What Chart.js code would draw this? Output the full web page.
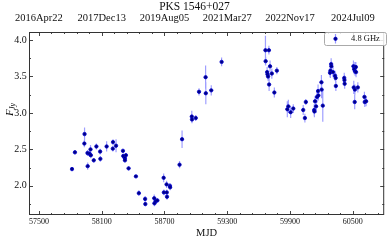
<!DOCTYPE html>
<html>
<head>
<meta charset="utf-8">
<script src="https://cdn.jsdelivr.net/npm/chart.js@4.4.1/dist/chart.umd.min.js"></script>
<style>
html,body{margin:0;padding:0;background:#fff;}
#c{display:block;}
</style>
</head>
<body>
<canvas id="c" width="389" height="240"></canvas>
<script>
// light curve, 4.8 GHz
const mjd = [57816,57844,57936,57934,57964,57966,57983,57993,57996,58024,58049,58085,58087,58147,58208,58206,58237,
  58303,58306,58321,58331,58322,58357,58427,58455,58515,58517,58602,58604,58616,58632,58692,58694,58720,58722,58724,
  58752,58754,58844,58868,58961,58963,58999,59030,59093,59095,59147,59246,
  59665,59698,59667,59681,59685,59690,59709,59726,59700,59750,59774,59874,59884,59906,59931,60026,60042,60051,
  60131,60133,60139,60149,60158,60168,60171,60200,60202,60213,60286,60293,60295,60282,60311,60330,60336,60338,
  60418,60420,60422,60506,60520,60529,60513,60522,60531,60509,60520,60548,60518,60611,60614,60627];
const flux = [2.23,2.46,2.71,2.58,2.45,2.27,2.44,2.50,2.42,2.35,2.54,2.47,2.37,2.54,2.60,2.51,2.55,
  2.48,2.41,2.38,2.42,2.35,2.24,2.13,1.90,1.82,1.75,1.83,1.76,1.79,1.80,2.11,1.91,2.02,1.91,1.85,
  2.00,1.98,2.29,2.64,2.95,2.91,2.93,3.29,3.49,3.27,3.31,3.70,
  3.86,3.86,3.71,3.56,3.53,3.50,3.64,3.54,3.39,3.28,3.58,3.05,3.09,3.01,3.06,3.04,2.93,3.15,
  3.04,3.02,3.16,3.09,3.22,3.30,3.24,3.42,3.32,3.10,3.58,3.67,3.64,3.55,3.56,3.51,3.48,3.37,
  3.48,3.45,3.40,3.64,3.63,3.63,3.60,3.57,3.56,3.35,3.32,3.35,3.15,3.22,3.15,3.16];
const fluxErr = [0.03,0.03,0.09,0.05,0.04,0.05,0.04,0.06,0.04,0.03,0.04,0.04,0.04,0.07,0.04,0.04,0.09,
  0.03,0.03,0.04,0.03,0.03,0.03,0.02,0.04,0.04,0.03,0.05,0.04,0.04,0.03,0.06,0.04,0.05,0.04,0.04,
  0.04,0.04,0.05,0.12,0.08,0.05,0.04,0.05,0.16,0.15,0.07,0.06,
  0.20,0.06,0.06,0.07,0.06,0.06,0.08,0.07,0.09,0.07,0.05,0.11,0.09,0.08,0.06,0.07,0.06,0.04,
  0.08,0.08,0.07,0.09,0.08,0.09,0.07,0.10,0.12,0.22,0.10,0.08,0.07,0.06,0.07,0.07,0.07,0.07,
  0.07,0.07,0.07,0.08,0.07,0.07,0.07,0.06,0.07,0.09,0.07,0.07,0.10,0.07,0.07,0.07];

const xTicks = [57500,58100,58700,59300,59900,60500];
const yTicks = [2.0,2.5,3.0,3.5,4.0];
const xRange = [57405,60800];
const yRange = [1.60,4.11];
const seriesLabel = "4.8 GHz";
const titleText = "PKS 1546+027";

const SERIF = "'Liberation Serif','Times New Roman',serif";
const months = ["Jan","Feb","Mar","Apr","May","Jun","Jul","Aug","Sep","Oct","Nov","Dec"];

function mjdToDate(m){
  const d = new Date((m-40587)*86400000);
  return d.getUTCFullYear()+months[d.getUTCMonth()]+String(d.getUTCDate()).padStart(2,"0");
}

const points = mjd.map((m,i)=>({x:m,y:flux[i]}));
const errLines = [];
mjd.forEach((m,i)=>{
  errLines.push({x:m,y:flux[i]-fluxErr[i]});
  errLines.push({x:m,y:flux[i]+fluxErr[i]});
  errLines.push({x:m,y:null});
});

// frame, inward ticks, titles and legend box
const decor = {
  id:"decor",
  afterDatasetsDraw(chart){
    const {ctx, chartArea:a, scales} = chart;
    const xs = scales.x, ys = scales.y;
    ctx.save();
    ctx.strokeStyle="#444"; ctx.lineWidth=1;
    ctx.beginPath();
    const xStep = (xTicks[1]-xTicks[0])/5;
    for(let v=xTicks[0]-xStep*5; v<=xRange[1]; v+=xStep){
      if(v<xRange[0]) continue;
      const p = Math.round(xs.getPixelForValue(v))+0.5;
      const major = xTicks.includes(Math.round(v));
      const len = major?4:2;
      ctx.moveTo(p,a.bottom); ctx.lineTo(p,a.bottom-len);
      ctx.moveTo(p,a.top); ctx.lineTo(p,a.top+len);
    }
    for(let v=1.75; v<=yRange[1]; v+=0.25){
      const p = Math.round(ys.getPixelForValue(v))+0.5;
      const major = Math.abs(v*2-Math.round(v*2))<1e-6;
      const len = major?4:2;
      ctx.moveTo(a.left,p); ctx.lineTo(a.left+len,p);
      ctx.moveTo(a.right,p); ctx.lineTo(a.right-len,p);
    }
    ctx.stroke();
    ctx.strokeStyle="#333";
    ctx.strokeRect(a.left+0.5,a.top+0.5,a.right-a.left-1,a.bottom-a.top-1);

    ctx.fillStyle="#111";
    ctx.textAlign="center"; ctx.textBaseline="middle";
    ctx.font="11.5px "+SERIF;
    ctx.fillText(titleText, chart.width/2, 6.5);
    ctx.font="10.5px "+SERIF;
    ctx.fillText("MJD",(a.left+a.right)/2,233);

    // y title F_Jy
    ctx.save();
    ctx.translate(10,110);
    ctx.rotate(-Math.PI/2);
    ctx.textAlign="left";
    ctx.font="italic 11px "+SERIF;
    ctx.fillText("F",-6,0);
    ctx.font="italic 8px "+SERIF;
    ctx.fillText("Jy",0,2.5);
    ctx.restore();

    // legend
    const lx=324, ly=32.5, lw=62, lh=13;
    ctx.fillStyle="rgba(255,255,255,0.85)";
    ctx.strokeStyle="#aaa";
    ctx.beginPath();
    ctx.roundRect(lx+0.5,ly,lw,lh,2);
    ctx.fill(); ctx.stroke();
    ctx.strokeStyle="rgba(80,80,255,0.6)"; ctx.lineWidth=1.2;
    ctx.beginPath(); ctx.moveTo(335.5,34); ctx.lineTo(335.5,43.5); ctx.stroke();
    ctx.fillStyle="#000080"; ctx.strokeStyle="#0000cd"; ctx.lineWidth=0.8;
    ctx.beginPath(); ctx.arc(335.5,38.8,1.7,0,Math.PI*2); ctx.fill(); ctx.stroke();
    ctx.fillStyle="#111"; ctx.textAlign="left"; ctx.textBaseline="middle";
    ctx.font="8.5px "+SERIF;
    ctx.fillText(seriesLabel,351,39);
    ctx.restore();
  }
};

new Chart(document.getElementById("c"),{
  type:"scatter",
  data:{datasets:[
    {label:seriesLabel,data:points,pointRadius:1.7,pointBackgroundColor:"#000080",pointBorderColor:"#0000cd",
     pointBorderWidth:0.8,showLine:false,order:0},
    {label:"err",data:errLines,showLine:true,spanGaps:false,pointRadius:0,borderColor:"rgba(80,80,255,0.55)",
     borderWidth:1.2,order:1}
  ]},
  options:{
    responsive:false,animation:false,
    layout:{padding:{left:0,right:2,top:0,bottom:0}},
    plugins:{legend:{display:false},tooltip:{enabled:false},title:{display:false}},
    events:[],
    scales:{
      x:{type:"linear",position:"bottom",min:xRange[0],max:xRange[1],
        afterBuildTicks:s=>{s.ticks=xTicks.map(v=>({value:v}));},
        afterFit:s=>{s.height=25;},
        grid:{display:false,drawTicks:false},border:{display:false},
        ticks:{padding:1.7,color:"#111",font:{family:SERIF,size:8},maxRotation:0,callback:v=>String(v)}},
      x2:{type:"linear",position:"top",min:xRange[0],max:xRange[1],
        afterBuildTicks:s=>{s.ticks=xTicks.map(v=>({value:v}));},
        afterFit:s=>{s.height=32;},
        grid:{display:false,drawTicks:false},border:{display:false},
        ticks:{padding:7.2,color:"#111",font:{family:SERIF,size:10.5},maxRotation:0,callback:v=>mjdToDate(v)}},
      y:{type:"linear",position:"left",min:yRange[0],max:yRange[1],
        afterBuildTicks:s=>{s.ticks=yTicks.map(v=>({value:v}));},
        afterFit:s=>{s.width=29;},
        grid:{display:false,drawTicks:false},border:{display:false},
        ticks:{padding:2.3,color:"#111",font:{family:SERIF,size:10},callback:v=>v.toFixed(1)}}
    }
  },
  plugins:[decor]
});
</script>
</body>
</html>
